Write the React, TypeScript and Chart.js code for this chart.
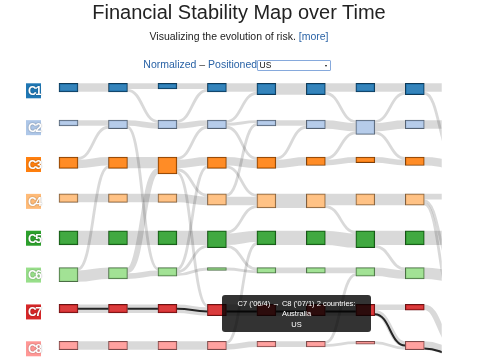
import React, { useEffect, useRef } from "react";
import { Chart, registerables } from "chart.js";

Chart.register(...registerables);

// ---- data ----
const periods = ["'05/2", "'05/3", "'05/4", "'06/1", "'06/2", "'06/3", "'06/4", "'07/1"];
const clusters = ["C1", "C2", "C3", "C4", "C5", "C6", "C7", "C8"];
const clusterColors = ["#1f77b4", "#aec7e8", "#ff7f0e", "#ffbb78", "#2ca02c", "#98df8a", "#d62728", "#ff9896"];

// number of countries in each cluster, per period
const countsC1 = [3, 3, 2, 3, 4, 4, 3, 4];
const countsC2 = [2, 3, 3, 3, 2, 3, 5, 3];
const countsC3 = [4, 4, 6, 4, 4, 3, 2, 3];
const countsC4 = [3, 3, 3, 4, 5, 5, 4, 4];
const countsC5 = [5, 5, 5, 6, 5, 5, 6, 5];
const countsC6 = [5, 4, 3, 1, 2, 2, 3, 4];
const countsC7 = [3, 3, 3, 4, 4, 4, 4, 2];
const countsC8 = [3, 3, 3, 3, 2, 2, 1, 3];

// flows between consecutive periods: [fromCluster, toCluster, countries]
const flows1 = [[0,0,3],[1,1,2],[2,1,1],[2,2,3],[3,3,3],[4,4,5],[5,2,1],[5,5,4],[6,6,3],[7,7,3]];
const flows2 = [[0,0,2],[0,1,1],[1,1,2],[1,5,1],[2,2,4],[3,3,3],[4,4,5],[5,2,2],[5,5,2],[6,6,3],[7,7,3]];
const flows3 = [[0,0,2],[1,0,1],[1,1,2],[2,1,1],[2,2,3],[2,3,1],[2,6,1],[3,3,3],[4,4,5],[5,2,1],[5,4,1],[5,5,1],[6,6,3],[7,7,3]];
const flows4 = [[0,0,3],[1,0,1],[1,1,1],[1,2,1],[2,2,3],[2,3,1],[3,1,1],[3,3,3],[4,3,1],[4,4,4],[4,5,1],[5,5,1],[6,6,4],[7,4,1],[7,7,2]];
const flows5 = [[0,0,4],[1,1,2],[2,1,1],[2,2,3],[3,3,5],[4,4,5],[5,5,2],[6,6,4],[7,7,2]];
const flows6 = [[0,0,3],[0,1,1],[1,1,3],[2,1,1],[2,2,2],[3,3,4],[3,4,1],[4,4,5],[5,5,2],[6,6,4],[7,5,1],[7,7,1]];
const flows7 = [[0,0,3],[1,0,1],[1,1,3],[1,2,1],[2,2,2],[3,3,4],[4,4,5],[4,5,1],[5,5,3],[6,6,2],[6,7,2],[7,7,1]];
const flows8 = [[0,0,3],[0,2,1],[1,1,3],[2,2,3],[3,3,2],[3,5,1],[3,6,1],[4,4,5],[5,5,4],[6,7,2],[7,7,3]];

// selected country (US): cluster per period and its slot inside each flow
const selectedCountry = "US";
const usPath = [6, 6, 6, 6, 6, 6, 6, 7, 7];
const usSlot = [1, 1, 1, 2, 2, 2, 1, 2];

// hovered flow
const hoverPeriod = 6;
const hoverFrom = 6;
const hoverTo = 7;
const hoverCountries = ["Australia", "US"];

const countsByCluster = [countsC1, countsC2, countsC3, countsC4, countsC5, countsC6, countsC7, countsC8];
const allFlows = [flows1, flows2, flows3, flows4, flows5, flows6, flows7, flows8];

// ---- layout constants ----
const ROW = 13; // row spacing in country units
const BOX_W = 19;
const VISIBLE_UNTIL = 7.545; // column units where drawing is cut off on the right

function hexToRgb(h: string) {
  const v = parseInt(h.slice(1), 16);
  return [(v >> 16) & 255, (v >> 8) & 255, v & 255];
}
function rgba(h: string, a: number) {
  const [r, g, b] = hexToRgb(h);
  return `rgba(${r},${g},${b},${a})`;
}
function darker(h: string) {
  const [r, g, b] = hexToRgb(h).map((c) => Math.round(c * 0.49));
  return `rgb(${r},${g},${b})`;
}

function layoutFlows(flows: number[][]) {
  const src: number[] = flows.map(() => 0);
  const tgt: number[] = flows.map(() => 0);
  const idx = flows.map((_, i) => i);
  const bySrc = [...idx].sort((a, b) => flows[a][0] - flows[b][0] || flows[a][1] - flows[b][1]);
  const accS: Record<number, number> = {};
  bySrc.forEach((i) => {
    const f = flows[i];
    src[i] = accS[f[0]] || 0;
    accS[f[0]] = src[i] + f[2];
  });
  const byTgt = [...idx].sort((a, b) => flows[a][1] - flows[b][1] || flows[a][0] - flows[b][0]);
  const accT: Record<number, number> = {};
  byTgt.forEach((i) => {
    const f = flows[i];
    tgt[i] = accT[f[1]] || 0;
    accT[f[1]] = tgt[i] + f[2];
  });
  return { src, tgt };
}

const linksPlugin = {
  id: "links",
  beforeDatasetsDraw(chart: any) {
    const { ctx } = chart;
    const xs = chart.scales.x;
    const ys = chart.scales.y;
    const unit = Math.abs(ys.getPixelForValue(1) - ys.getPixelForValue(0));
    ctx.save();
    ctx.beginPath();
    ctx.rect(0, 0, xs.getPixelForValue(VISIBLE_UNTIL), chart.height);
    ctx.clip();
    const curve = (t: number, ya: number, yb: number) => {
      const x0 = xs.getPixelForValue(t) + BOX_W / 2;
      const x1 = xs.getPixelForValue(t + 1) - BOX_W / 2;
      const xm = (x0 + x1) / 2;
      const y0 = ys.getPixelForValue(ya);
      const y1 = ys.getPixelForValue(yb);
      ctx.beginPath();
      ctx.moveTo(x0, y0);
      ctx.bezierCurveTo(xm, y0, xm, y1, x1, y1);
      ctx.stroke();
    };
    const layouts = allFlows.map(layoutFlows);
    ctx.strokeStyle = "rgba(0,0,0,0.15)";
    ctx.lineCap = "butt";
    allFlows.forEach((flows, t) => {
      const { src, tgt } = layouts[t];
      flows.forEach((f, i) => {
        ctx.lineWidth = f[2] * unit;
        curve(t, f[0] * ROW + src[i] + f[2] / 2, f[1] * ROW + tgt[i] + f[2] / 2);
      });
    });
    // selected country path
    ctx.strokeStyle = "rgba(17,17,17,0.9)";
    ctx.lineWidth = 2;
    for (let t = 0; t < usPath.length - 1; t++) {
      const flows = allFlows[t];
      const i = flows.findIndex((f) => f[0] === usPath[t] && f[1] === usPath[t + 1]);
      if (i < 0) continue;
      const { src, tgt } = layouts[t];
      curve(t, usPath[t] * ROW + src[i] + usSlot[t] + 0.5, usPath[t + 1] * ROW + tgt[i] + usSlot[t] + 0.5);
    }
    ctx.restore();
  },
  afterDatasetsDraw(chart: any) {
    const { ctx } = chart;
    const ys = chart.scales.y;
    ctx.save();
    clusters.forEach((c, r) => {
      const top = ys.getPixelForValue(r * ROW);
      ctx.fillStyle = clusterColors[r];
      ctx.fillRect(26, top, 15, 15);
      ctx.font = "bold 12px 'Liberation Sans', Arial, sans-serif";
      (ctx as any).letterSpacing = "-1.5px";
      ctx.textAlign = "center";
      ctx.textBaseline = "alphabetic";
      ctx.shadowColor = "rgba(0,0,0,0.45)";
      ctx.shadowBlur = 1.5;
      ctx.fillStyle = "#ffffff";
      ctx.fillText(c, 33.5 + 0.7, top + 11.8);
      ctx.shadowBlur = 0;
      ctx.shadowColor = "transparent";
    });
    ctx.restore();
  },
};

export default function App() {
  const ref = useRef<HTMLCanvasElement | null>(null);
  useEffect(() => {
    if (!ref.current) return;
    const chart = new Chart(ref.current, {
      type: "bar",
      data: {
        datasets: clusters.map((c, r) => ({
          label: c,
          data: countsByCluster[r].map((n, i) => ({ x: i, y: [r * ROW, r * ROW + n] })),
          backgroundColor: rgba(clusterColors[r], 0.9),
          borderColor: darker(clusterColors[r]),
          borderWidth: 1,
          borderSkipped: false,
          barThickness: BOX_W,
          grouped: false,
          clip: false,
        })) as any,
      },
      options: {
        animation: false,
        responsive: false,
        devicePixelRatio: 1,
        events: [],
        layout: { padding: { left: 68.5, right: 65.2, top: 83.3, bottom: 1.7 } },
        plugins: { legend: { display: false }, tooltip: { enabled: false }, title: { display: false } },
        scales: {
          x: { type: "linear", min: 0, max: 7, offset: false, display: false, grid: { offset: false } },
          y: { type: "linear", min: 0, max: 97, reverse: true, display: false, beginAtZero: false },
        },
      } as any,
      plugins: [linksPlugin],
    });
    return () => chart.destroy();
  }, []);

  const font = "'Liberation Sans', Arial, sans-serif";
  const blue = "#2a63a6";
  return (
    <div style={{ position: "absolute", left: 0, top: 0, width: 480, height: 360, background: "#fff", fontFamily: font, overflow: "hidden" }}>
      <canvas ref={ref} width={480} height={360} style={{ position: "absolute", left: 0, top: 0 }} />
      <div style={{ position: "absolute", left: 0, top: 0, width: 478, textAlign: "center", fontSize: 20, lineHeight: "24px", color: "#222" }}>
        Financial Stability Map over Time
      </div>
      <div style={{ position: "absolute", left: 0, top: 30, width: 478, textAlign: "center", fontSize: 10.5, lineHeight: "13px", color: "#222" }}>
        Visualizing the evolution of risk. <span style={{ color: blue }}>[more]</span>
      </div>
      <div style={{ position: "absolute", left: 143.3, top: 58, fontSize: 10.5, lineHeight: "13px", whiteSpace: "nowrap", color: "#444" }}>
        <span style={{ color: blue }}>Normalized</span> – <span style={{ color: blue }}>Positioned</span>
      </div>
      <div style={{ position: "absolute", left: 257, top: 60, width: 74, height: 11, boxSizing: "border-box", border: "1px solid #86a9dc", borderRadius: 1, background: "#fff" }}>
        <span style={{ position: "absolute", left: 1.5, top: 0, fontSize: 8.5, lineHeight: "9px", color: "#111" }}>{selectedCountry}</span>
        <span style={{ position: "absolute", right: 3.5, top: 3.5, width: 0, height: 0, borderLeft: "1.8px solid transparent", borderRight: "1.8px solid transparent", borderTop: "2.5px solid #111" }} />
      </div>
      <div style={{ position: "absolute", left: 222, top: 294.5, width: 149, height: 37, boxSizing: "border-box", paddingTop: 4.2, background: "rgba(0,0,0,0.8)", borderRadius: 3, color: "#fff", fontSize: 7.5, lineHeight: "10.5px", textAlign: "center", whiteSpace: "nowrap" }}>
        <div>{`${clusters[hoverFrom]} (${periods[hoverPeriod]}) → ${clusters[hoverTo]} (${periods[hoverPeriod + 1]}) ${hoverCountries.length} countries:`}</div>
        {hoverCountries.map((c) => (
          <div key={c}>{c}</div>
        ))}
      </div>
    </div>
  );
}
